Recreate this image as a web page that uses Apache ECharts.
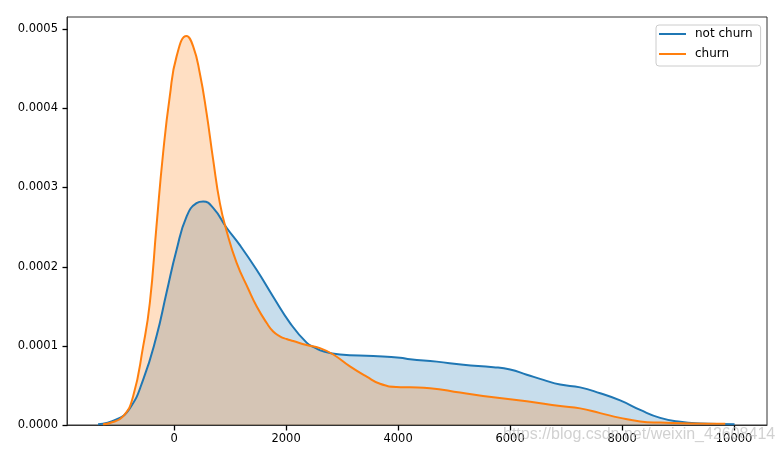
<!DOCTYPE html>
<html>
<head>
<meta charset="utf-8">
<script src="https://cdn.jsdelivr.net/npm/echarts@6/dist/echarts.min.js"></script>
<style>html,body{margin:0;padding:0;background:#fff}#c{width:783px;height:454px}</style>
</head>
<body>
<div id="c"></div>
<script>
// ---- data (KDE densities) ----
var seriesNames = ['not churn', 'churn'];
var notChurnX = [-1358, -1030, -792, -554, -315, -136, 43, 222, 400, 519, 697, 937, 1174, 1473, 1769, 2068, 2366, 2520, 2663, 2962, 3557, 4034, 4213, 4690, 5165, 5702, 6000, 6298, 6595, 6894, 7251, 7609, 7966, 8324, 8681, 9039, 9396, 10009];
var notChurnY = [1e-6, 7e-6, 2.1e-5, 5.7e-5, 1.12e-4, 1.67e-4, 2.21e-4, 2.63e-4, 2.80e-4, 2.82e-4, 2.74e-4, 2.49e-4, 2.27e-4, 1.96e-4, 1.62e-4, 1.29e-4, 1.04e-4, 9.75e-5, 9.3e-5, 8.9e-5, 8.7e-5, 8.5e-5, 8.3e-5, 8.0e-5, 7.6e-5, 7.3e-5, 7.0e-5, 6.35e-5, 5.7e-5, 5.1e-5, 4.75e-5, 4.0e-5, 3.1e-5, 1.9e-5, 9e-6, 4e-6, 2e-6, 1e-6];
var churnX = [-1269, -1149, -911, -733, -554, -434, -315, -197, -77, 43, 222, 340, 459, 579, 697, 817, 937, 1115, 1323, 1473, 1651, 1769, 1889, 2008, 2127, 2366, 2604, 2842, 3140, 3439, 3677, 3975, 4213, 4570, 5106, 5702, 6298, 6894, 7251, 7609, 7966, 8324, 8681, 9217, 9843];
var churnY = [1e-6, 2.5e-6, 1.1e-5, 3.6e-5, 9.9e-5, 1.54e-4, 2.51e-4, 3.43e-4, 4.15e-4, 4.65e-4, 4.91e-4, 4.78e-4, 4.44e-4, 3.94e-4, 3.35e-4, 2.80e-4, 2.45e-4, 2.05e-4, 1.72e-4, 1.50e-4, 1.29e-4, 1.18e-4, 1.12e-4, 1.085e-4, 1.06e-4, 1.01e-4, 9.7e-5, 8.9e-5, 7.4e-5, 6.1e-5, 5.2e-5, 4.8e-5, 4.75e-5, 4.65e-5, 4.1e-5, 3.5e-5, 3.0e-5, 2.4e-5, 2.1e-5, 1.5e-5, 9e-6, 4.5e-6, 3e-6, 2e-6, 1.5e-6];
var xTicks = [0, 2000, 4000, 6000, 8000, 10000];
var yTicks = [0, 0.0001, 0.0002, 0.0003, 0.0004, 0.0005];
var watermark = 'https://blog.csdn.net/weixin_42608414';

function pairs(xs, ys) { return xs.map(function (x, i) { return [x, ys[i]]; }); }

var font = 'DejaVu Sans';
var X_MIN = -1913, X_MAX = 10588, Y_MIN = 0, Y_MAX = 0.000515;

function tickSeries(data, horizontal) {
  return {
    type: 'custom', silent: true, clip: false, z: 10,
    data: data,
    renderItem: function (params, api) {
      var p = api.coord([api.value(0), api.value(1)]);
      var x = Math.round(p[0]) + 0.5, y = Math.round(p[1]) + 0.5;
      var shape = horizontal
        ? { x1: x - 5, y1: y, x2: x, y2: y }
        : { x1: x, y1: y, x2: x, y2: y + 5 };
      return { type: 'line', shape: shape, style: { stroke: '#000', lineWidth: 1.3 } };
    }
  };
}

var chart = echarts.init(document.getElementById('c'), null, { renderer: 'canvas' });
chart.setOption({
  animation: false,
  backgroundColor: '#fff',
  grid: { left: 67, right: 16, top: 17, bottom: 29, show: true, borderColor: '#333', borderWidth: 1, backgroundColor: 'transparent' },
  legend: {
    orient: 'vertical', left: 656, top: 25,
    padding: [2, 8, 5, 3], itemGap: 6,
    itemWidth: 27, itemHeight: 2, icon: 'rect',
    borderColor: '#cccccc', borderWidth: 1, borderRadius: 3, backgroundColor: 'rgba(255,255,255,0.8)',
    textStyle: { fontFamily: font, fontSize: 12, color: '#000', lineHeight: 14, padding: [0, 0, 0, 4] },
    data: seriesNames
  },
  xAxis: {
    type: 'value', min: X_MIN, max: X_MAX,
    axisLine: { show: true, onZero: false, lineStyle: { color: '#333', width: 1 } },
    splitLine: { show: false },
    axisTick: { show: false },
    axisLabel: { fontFamily: font, fontSize: 11.5, color: '#000', margin: 8, customValues: xTicks, formatter: function (v) { return String(v); } }
  },
  yAxis: {
    type: 'value', min: Y_MIN, max: Y_MAX,
    axisLine: { show: true, onZero: false, lineStyle: { color: '#333', width: 1 } },
    splitLine: { show: false },
    axisTick: { show: false },
    axisLabel: { fontFamily: font, fontSize: 11.5, color: '#000', margin: 9, customValues: yTicks, formatter: function (v) { return v.toFixed(4); } }
  },
  series: [
    {
      name: seriesNames[0], type: 'line', smooth: 0.5, showSymbol: false, symbol: 'none',
      data: pairs(notChurnX, notChurnY),
      itemStyle: { color: '#1f77b4' },
      lineStyle: { color: '#1f77b4', width: 2 },
      areaStyle: { color: '#1f77b4', opacity: 0.25 }
    },
    {
      name: seriesNames[1], type: 'line', smooth: 0.5, showSymbol: false, symbol: 'none',
      data: pairs(churnX, churnY),
      itemStyle: { color: '#ff7f0e' },
      lineStyle: { color: '#ff7f0e', width: 2 },
      areaStyle: { color: '#ff7f0e', opacity: 0.25 }
    },
    tickSeries(xTicks.map(function (v) { return [v, Y_MIN]; }), false),
    tickSeries(yTicks.map(function (v) { return [X_MIN, v]; }), true)
  ],
  graphic: [{
    type: 'text', left: 503, top: 427, z: 100, silent: true,
    style: { text: watermark, fontFamily: 'Liberation Sans', fontSize: 16, fill: 'rgba(190,190,190,0.7)' }
  }]
});
</script>
</body>
</html>
